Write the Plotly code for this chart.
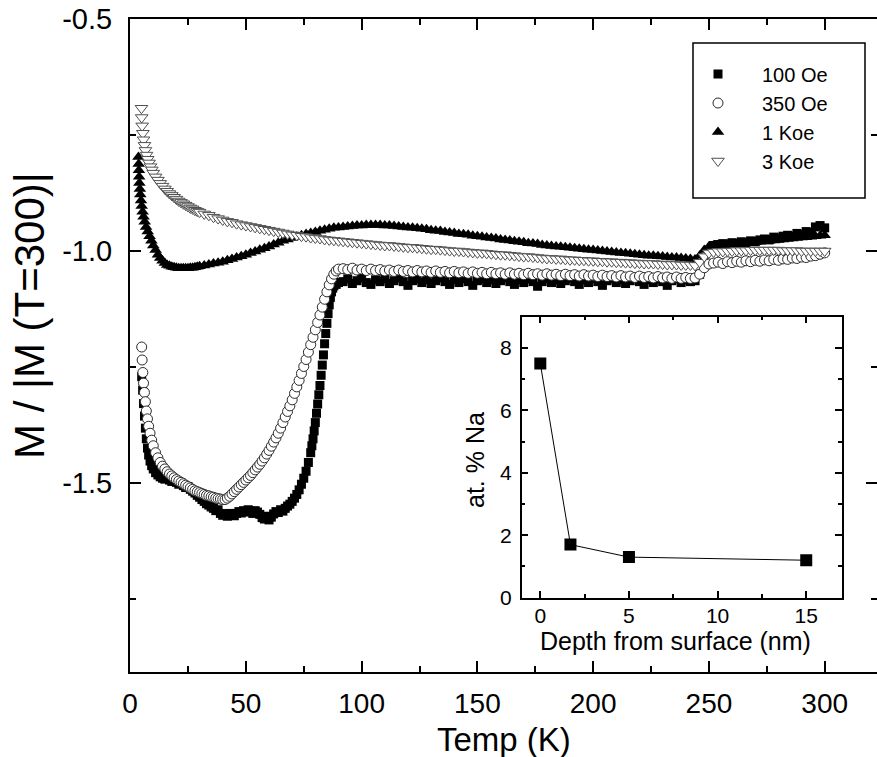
import plotly.graph_objects as go

# ---------------------------------------------------------------- data
# shared temperature sweeps (K)
T_INT_10_30 = [10, 11, 12, 13, 14, 15, 16, 17, 18, 19, 20, 21, 22, 23, 24, 25,
               26, 27, 28, 29, 30]
T_EVEN_32_90 = [32, 34, 36, 38, 40, 42, 44, 46, 48, 50, 52, 54, 56, 58, 60,
                62, 64, 66, 68, 70, 72, 74, 76, 78, 80, 82, 84, 86, 88, 90]
T_SWEEP_MID = [92, 94, 96, 98, 100, 102, 104, 106, 108, 110,
               112, 114, 116, 118, 120, 122, 124, 126, 128, 130,
               132, 134, 136, 138, 140, 142, 144, 146, 148, 150,
               152, 154, 156, 158, 160, 162, 164, 166, 168, 170,
               172, 174, 176, 178, 180, 182, 184, 186, 188, 190,
               192, 194, 196, 198, 200, 202, 204, 206, 208, 210,
               212, 214, 216, 218, 220, 222, 224, 226, 228, 230,
               232, 234, 236, 238, 240, 242, 244]
T_SWEEP_HIGH = [246, 248, 250, 252, 254, 256, 258, 260, 262, 264, 266, 268,
                270, 272, 274, 276, 278, 280, 282, 284, 286, 288, 290, 292,
                294, 296, 298, 300]

# 100 Oe
T_100_LOW = [5.0, 5.4, 5.8, 6.2, 6.6, 7.0, 7.5, 8.0, 8.6, 9.3,
             10, 11, 12, 13, 14, 15, 16, 17, 18, 19,
             20, 21, 22, 23, 24, 25, 26, 27, 28, 29,
             30, 31, 32, 33, 34, 35, 36, 37, 38, 39,
             40, 41, 42, 43, 44, 45, 46, 47, 48, 49,
             50, 51, 52, 53, 54, 55, 56, 57, 58, 59,
             60, 61, 62, 63, 64, 65, 66, 67, 68, 69,
             70, 71, 72, 73, 74, 75, 76, 77, 78,
             78.5, 79, 79.5, 80, 80.5, 81, 81.5, 82, 82.5, 83,
             83.5, 84, 84.5, 85, 85.5, 86, 86.5, 87, 87.5, 88,
             89, 90]
M_100 = [-1.271, -1.300, -1.329, -1.356, -1.382, -1.405, -1.425, -1.440, -1.453, -1.463,
         -1.470, -1.478, -1.483, -1.487, -1.490, -1.492, -1.490, -1.494, -1.497, -1.494,
         -1.499, -1.503, -1.500, -1.506, -1.510, -1.508, -1.514, -1.518, -1.522, -1.527,
         -1.531, -1.536, -1.540, -1.545, -1.548, -1.552, -1.555, -1.560, -1.558, -1.566,
         -1.570, -1.567, -1.572, -1.566, -1.569, -1.571, -1.566, -1.562, -1.565, -1.560,
         -1.563, -1.558, -1.561, -1.566, -1.560, -1.563, -1.568, -1.575, -1.578, -1.572,
         -1.580, -1.574, -1.567, -1.562, -1.564, -1.558, -1.561, -1.555, -1.550, -1.546,
         -1.540, -1.533, -1.525, -1.515, -1.503, -1.490, -1.475, -1.456, -1.435,
         -1.420, -1.405, -1.388, -1.370, -1.350, -1.330, -1.310, -1.290, -1.268, -1.246,
         -1.224, -1.200, -1.178, -1.156, -1.135, -1.116, -1.100, -1.088, -1.080, -1.075,
         -1.072, -1.068,
         -1.066, -1.060, -1.070, -1.064, -1.058, -1.068, -1.072, -1.062, -1.066, -1.060,
         -1.070, -1.064, -1.058, -1.066, -1.074, -1.064, -1.060, -1.068, -1.062, -1.070,
         -1.064, -1.058, -1.066, -1.072, -1.062, -1.068, -1.060, -1.066, -1.074, -1.064,
         -1.060, -1.068, -1.062, -1.070, -1.064, -1.058, -1.066, -1.072, -1.062, -1.068,
         -1.060, -1.066, -1.076, -1.066, -1.060, -1.068, -1.062, -1.070, -1.064, -1.058,
         -1.066, -1.072, -1.062, -1.068, -1.060, -1.066, -1.074, -1.064, -1.060, -1.068,
         -1.062, -1.070, -1.064, -1.058, -1.066, -1.072, -1.062, -1.068, -1.060, -1.066,
         -1.074, -1.064, -1.060, -1.068, -1.062, -1.066, -1.064,
         -1.050, -1.020, -0.998, -0.988, -0.986, -0.984, -0.986, -0.982, -0.984, -0.980,
         -0.982, -0.978, -0.980, -0.976, -0.974, -0.976, -0.970, -0.972, -0.968, -0.966,
         -0.968, -0.962, -0.964, -0.958, -0.960, -0.948, -0.945, -0.950]

# 350 Oe
T_350_LOW = [5.0, 5.2, 5.5, 5.8, 6.2, 6.6, 7.0, 7.5, 8.0, 8.6, 9.3,
             10, 11, 12, 13, 14, 15, 16, 17, 18, 19,
             20, 21, 22, 23, 24, 25, 26, 27, 28, 29,
             30, 31, 32, 33, 34, 35, 36, 37, 38, 39,
             40, 41, 42, 43, 44, 45, 46, 47, 48, 49,
             50, 51, 52, 53, 54, 55, 56, 57, 58, 59,
             60, 61, 62, 63, 64, 65, 66, 67, 68, 69,
             70, 71, 72, 73, 74, 75, 76, 77, 78, 79,
             80, 81, 82, 83, 84, 85, 86, 87, 88, 89, 90]
M_350 = [-1.207, -1.235, -1.262, -1.285, -1.305, -1.325, -1.345, -1.362, -1.378, -1.393, -1.408,
         -1.420, -1.435, -1.446, -1.456, -1.464, -1.470, -1.476, -1.481, -1.485, -1.489,
         -1.493, -1.496, -1.499, -1.502, -1.505, -1.508, -1.511, -1.514, -1.517, -1.519,
         -1.521, -1.523, -1.525, -1.527, -1.528, -1.530, -1.531, -1.533, -1.534, -1.535,
         -1.536, -1.536, -1.533, -1.529, -1.524, -1.519, -1.514, -1.509, -1.504, -1.499,
         -1.494, -1.489, -1.484, -1.478, -1.472, -1.466, -1.460, -1.453, -1.446, -1.438,
         -1.430, -1.421, -1.412, -1.403, -1.393, -1.382, -1.370, -1.358, -1.346, -1.334,
         -1.321, -1.307, -1.293, -1.279, -1.264, -1.249, -1.234, -1.218, -1.202, -1.186,
         -1.170, -1.154, -1.138, -1.121, -1.104, -1.088, -1.073, -1.060, -1.050, -1.043, -1.039,
         -1.038, -1.040, -1.037, -1.041, -1.039, -1.042, -1.039, -1.042, -1.040, -1.043,
         -1.041, -1.044, -1.041, -1.044, -1.042, -1.045, -1.042, -1.045, -1.043, -1.046,
         -1.043, -1.046, -1.044, -1.047, -1.044, -1.047, -1.045, -1.048, -1.045, -1.048,
         -1.046, -1.049, -1.046, -1.049, -1.047, -1.050, -1.047, -1.050, -1.048, -1.051,
         -1.048, -1.051, -1.049, -1.052, -1.049, -1.052, -1.050, -1.053, -1.050, -1.053,
         -1.051, -1.054, -1.051, -1.054, -1.052, -1.055, -1.052, -1.055, -1.053, -1.056,
         -1.053, -1.056, -1.054, -1.057, -1.054, -1.057, -1.055, -1.058, -1.055, -1.058,
         -1.056, -1.059, -1.056, -1.059, -1.057, -1.059, -1.058,
         -1.050, -1.036, -1.028, -1.026, -1.024, -1.027, -1.023, -1.025, -1.022, -1.024,
         -1.021, -1.023, -1.020, -1.022, -1.019, -1.021, -1.018, -1.020, -1.017, -1.018,
         -1.015, -1.016, -1.013, -1.014, -1.011, -1.010, -1.007, -1.004]

# 1 Koe
T_1K_LOW = [3.6, 3.7, 3.8, 3.9, 4.0, 4.2, 4.4, 4.7, 5.0, 5.4, 5.8, 6.3, 6.9, 7.6, 8.4, 9.2]
M_1K = [-0.797, -0.812, -0.826, -0.840, -0.853, -0.866, -0.878, -0.891, -0.903, -0.915,
        -0.926, -0.937, -0.948, -0.958, -0.968, -0.978,
        -0.988, -0.998, -1.008, -1.015, -1.021, -1.026, -1.030, -1.032, -1.034, -1.035,
        -1.036, -1.037, -1.037, -1.037, -1.037, -1.037, -1.036, -1.036, -1.035, -1.034, -1.033,
        -1.031, -1.029, -1.027, -1.025, -1.023, -1.020, -1.017, -1.014, -1.011, -1.008,
        -1.004, -1.001, -0.997, -0.994, -0.990, -0.986, -0.982, -0.978, -0.975, -0.972,
        -0.969, -0.966, -0.963, -0.961, -0.959, -0.956, -0.954, -0.952, -0.950, -0.949,
        -0.948, -0.947, -0.946, -0.945, -0.945, -0.944, -0.944, -0.944, -0.944, -0.945,
        -0.945, -0.946, -0.947, -0.948, -0.949, -0.950, -0.951, -0.952, -0.953, -0.955,
        -0.956, -0.957, -0.959, -0.960, -0.961, -0.963, -0.964, -0.965, -0.967, -0.968,
        -0.969, -0.971, -0.972, -0.973, -0.975, -0.976, -0.977, -0.979, -0.980, -0.981,
        -0.983, -0.984, -0.985, -0.987, -0.988, -0.989, -0.990, -0.991, -0.992, -0.993,
        -0.994, -0.995, -0.996, -0.997, -0.998, -0.999, -1.000, -1.001, -1.002, -1.003,
        -1.004, -1.005, -1.006, -1.007, -1.008, -1.009, -1.010, -1.010, -1.011, -1.012,
        -1.013, -1.014, -1.014, -1.015, -1.016, -1.017, -1.018,
        -1.010, -0.998, -0.990, -0.988, -0.987, -0.987, -0.986, -0.985, -0.985, -0.984,
        -0.983, -0.982, -0.981, -0.980, -0.979, -0.978, -0.977, -0.976, -0.975, -0.974,
        -0.973, -0.972, -0.971, -0.970, -0.969, -0.968, -0.967, -0.966]

# 3 Koe
T_3K_LOW = [4.9, 5.0, 5.2, 5.5, 5.8, 6.2, 6.6, 7.1, 7.6, 8.2, 8.8, 9.4]
M_3K = [-0.692, -0.712, -0.730, -0.746, -0.760, -0.772, -0.783, -0.793, -0.802, -0.810,
        -0.818, -0.825,
        -0.832, -0.840, -0.847, -0.854, -0.860, -0.866, -0.871, -0.876, -0.880, -0.884,
        -0.888, -0.892, -0.895, -0.898, -0.901, -0.904, -0.907, -0.909, -0.912, -0.914, -0.916,
        -0.920, -0.923, -0.927, -0.930, -0.933, -0.936, -0.938, -0.941, -0.943, -0.945,
        -0.947, -0.949, -0.951, -0.953, -0.955, -0.957, -0.959, -0.961, -0.963, -0.965,
        -0.966, -0.968, -0.969, -0.971, -0.972, -0.973, -0.975, -0.976, -0.977, -0.978,
        -0.979, -0.980, -0.981, -0.982, -0.983, -0.984, -0.985, -0.986, -0.987, -0.988,
        -0.988, -0.989, -0.990, -0.991, -0.992, -0.992, -0.993, -0.994, -0.995, -0.996,
        -0.996, -0.997, -0.998, -0.999, -1.000, -1.000, -1.001, -1.002, -1.003, -1.004,
        -1.004, -1.005, -1.006, -1.007, -1.008, -1.008, -1.009, -1.010, -1.011, -1.012,
        -1.012, -1.013, -1.014, -1.015, -1.016, -1.016, -1.017, -1.017, -1.018, -1.019,
        -1.019, -1.020, -1.020, -1.021, -1.021, -1.022, -1.022, -1.023, -1.023, -1.024,
        -1.024, -1.025, -1.025, -1.026, -1.026, -1.027, -1.027, -1.027, -1.028, -1.028,
        -1.029, -1.029, -1.029, -1.030, -1.030, -1.030, -1.031,
        -1.024, -1.012, -1.004, -1.002, -1.001, -1.001, -1.000, -1.000, -0.999, -0.999,
        -0.999, -0.998, -0.998, -0.998, -0.998, -0.998, -0.998, -0.998, -0.999, -0.999,
        -0.999, -0.999, -1.000, -1.000, -1.000, -1.000, -1.000, -1.000]

T_100 = T_100_LOW + T_SWEEP_MID + T_SWEEP_HIGH
T_350 = T_350_LOW + T_SWEEP_MID + T_SWEEP_HIGH
T_1K = T_1K_LOW + T_INT_10_30 + T_EVEN_32_90 + T_SWEEP_MID + T_SWEEP_HIGH
T_3K = T_3K_LOW + T_INT_10_30 + T_EVEN_32_90 + T_SWEEP_MID + T_SWEEP_HIGH

# inset: sodium depth profile
DEPTH_NM = [0, 1.7, 5, 15]
NA_AT_PCT = [7.5, 1.7, 1.3, 1.2]

SERIES = [
    ("100 Oe", T_100, M_100, dict(symbol="square", size=9, color="black",
                                  line=dict(width=0))),
    ("350 Oe", T_350, M_350, dict(symbol="circle", size=10, color="white",
                                  line=dict(color="#2a2a2a", width=1))),
    ("1 Koe", T_1K, M_1K, dict(symbol="triangle-up", size=11, color="black",
                               line=dict(width=0))),
    ("3 Koe", T_3K, M_3K, dict(symbol="triangle-down", size=11, color="white",
                               line=dict(color="#505050", width=1))),
]
for name, tx, my, _ in SERIES:
    assert len(tx) == len(my), (name, len(tx), len(my))

Y_TICKS = [-0.5, -1.0, -1.5]
X_TICKS = [0, 50, 100, 150, 200, 250, 300]
INSET_X_TICKS = [0, 5, 10, 15]
INSET_Y_TICKS = [0, 2, 4, 6, 8]

# ---------------------------------------------------------------- layout helpers
W, H = 877, 757
ML, MR, MT, MB = 130, 0, 19, 85
PW, PH = W - ML - MR, H - MT - MB
FONT = "Liberation Sans, Arial, Helvetica, sans-serif"


def px(xp):
    return (xp - ML) / PW


def py(yp):
    return (H - MB - yp) / PH


fig = go.Figure()

for name, tx, my, mk in SERIES:
    fig.add_trace(go.Scatter(x=tx, y=my, mode="markers", name=name, marker=mk,
                             xaxis="x", yaxis="y", hoverinfo="skip"))

# carrier for the right-hand tick axis
fig.add_trace(go.Scatter(x=[], y=[], xaxis="x", yaxis="y3", showlegend=False,
                         hoverinfo="skip"))

fig.add_trace(go.Scatter(x=DEPTH_NM, y=NA_AT_PCT, mode="lines+markers",
                         xaxis="x2", yaxis="y2", showlegend=False,
                         line=dict(color="black", width=1),
                         marker=dict(symbol="square", size=12, color="black"),
                         hoverinfo="skip"))

axis_common = dict(showgrid=False, zeroline=False, showline=True,
                   linecolor="black", ticks="inside", tickcolor="black")

fig.update_layout(
    width=W, height=H, autosize=False,
    margin=dict(l=ML, r=MR, t=MT, b=MB, pad=0),
    paper_bgcolor="white", plot_bgcolor="white",
    font=dict(family=FONT, color="black"),
    xaxis=dict(**axis_common, domain=[0, 1], anchor="y", range=[-0.05, 322.6],
               linewidth=2, mirror="ticks", ticklen=11, tickwidth=2,
               tickvals=X_TICKS, ticktext=[str(v) for v in X_TICKS],
               tickfont=dict(size=28), ticklabelstandoff=5,
               minor=dict(dtick=25, tick0=0, ticks="inside", ticklen=6,
                          tickwidth=2, tickcolor="black", showgrid=False)),
    yaxis=dict(**axis_common, domain=[0, 1], anchor="x", range=[-1.908, -0.4995],
               linewidth=2, ticklen=11, tickwidth=2,
               tickvals=Y_TICKS, ticktext=[f"{v:.1f}" for v in Y_TICKS],
               tickfont=dict(size=29), ticklabelstandoff=10,
               minor=dict(dtick=0.25, tick0=0, ticks="inside", ticklen=6,
                          tickwidth=2, tickcolor="black", showgrid=False)),
    yaxis3=dict(overlaying="y", side="right", anchor="x", range=[-1.908, -0.4995],
                showgrid=False, zeroline=False, showline=False,
                ticks="inside", ticklen=11, tickwidth=2, tickcolor="black",
                tickvals=Y_TICKS, showticklabels=False,
                minor=dict(dtick=0.25, tick0=0, ticks="inside", ticklen=6,
                           tickwidth=2, tickcolor="black", showgrid=False)),
    xaxis2=dict(**axis_common, domain=[px(521.7), px(841.7)], anchor="y2",
                range=[-1.05, 17.0], linewidth=1.5, mirror="ticks",
                ticklen=7, tickwidth=1.5, tickvals=INSET_X_TICKS,
                ticktext=[str(v) for v in INSET_X_TICKS],
                tickfont=dict(size=21), ticklabelstandoff=-2,
                minor=dict(dtick=2.5, tick0=0, ticks="inside", ticklen=4,
                           tickwidth=1.5, tickcolor="black", showgrid=False)),
    yaxis2=dict(**axis_common, domain=[py(597.7), py(316.7)], anchor="x2",
                range=[0, 9], linewidth=1.5, mirror="ticks",
                ticklen=7, tickwidth=1.5, tickvals=INSET_Y_TICKS,
                ticktext=[str(v) for v in INSET_Y_TICKS],
                tickfont=dict(size=21), ticklabelstandoff=4,
                minor=dict(dtick=1, tick0=0, ticks="inside", ticklen=4,
                           tickwidth=1.5, tickcolor="black", showgrid=False)),
    legend=dict(x=px(674), y=py(54.5), xanchor="left", yanchor="top",
                bgcolor="rgba(0,0,0,0)", borderwidth=0, itemwidth=78,
                font=dict(size=20, family=FONT), tracegroupgap=0),
    shapes=[dict(type="rect", xref="paper", yref="paper",
                 x0=px(693), x1=px(865), y0=py(198), y1=py(43),
                 line=dict(color="black", width=1.5), fillcolor="rgba(0,0,0,0)")],
    annotations=[
        dict(text="Temp (K)", xref="paper", yref="paper", x=px(503.5), y=py(739),
             xanchor="center", yanchor="middle", showarrow=False,
             font=dict(size=33), borderpad=0),
        dict(text="M / |M (T=300)|", xref="paper", yref="paper", x=px(29), y=py(316),
             xanchor="center", yanchor="middle", showarrow=False, textangle=-90,
             font=dict(size=42)),
        dict(text="at. % Na", xref="paper", yref="paper", x=px(475), y=py(460),
             xanchor="center", yanchor="middle", showarrow=False, textangle=-90,
             font=dict(size=25)),
        dict(text="Depth from surface (nm)", xref="paper", yref="paper",
             x=px(675), y=py(641), xanchor="center", yanchor="middle",
             showarrow=False, font=dict(size=25)),
    ],
)

fig.write_html("out.html")
